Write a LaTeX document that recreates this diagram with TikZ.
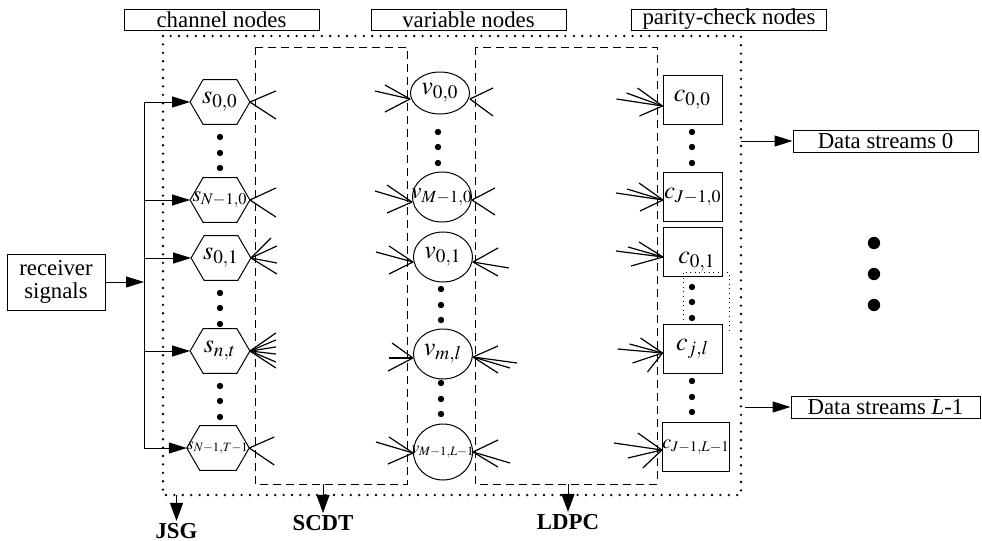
\documentclass[tikz,border=0pt]{standalone}
\usepackage{mathptmx}
\usepackage{fontspec}
\setmainfont{Liberation Serif}
\usetikzlibrary{arrows.meta,calc,shapes.geometric}
\newcommand\myfan[3]{\foreach \p in {#3} \draw[edgeln] ($(#1)+(0,#2)$) -- +\p;}
\begin{document}
\begin{tikzpicture}[x=0.5pt,y=-0.5pt,
  every node/.style={inner sep=0pt},
  txt/.style={font=\fontsize{11.4}{11.6}\selectfont},
  hdr/.style={draw, line width=0.5pt, minimum width=97.5pt, minimum height=10.5pt, txt},
  hexn/.style={minimum width=29.5pt, minimum height=22pt},
  vn/.style={draw, ellipse, minimum width=29.5pt, minimum height=25pt, line width=0.5pt},
  cn/.style={draw, rectangle, minimum width=29.5pt, minimum height=24.5pt, line width=0.5pt},
  outbox/.style={draw, line width=0.5pt, minimum height=11pt, txt},
  arr/.style={-{Triangle[length=9pt,width=5.5pt]}, line width=0.5pt},
  darr/.style={-{Triangle[length=9pt,width=6.5pt]}, line width=0.5pt},
  edgeln/.style={line width=0.6pt},
  dotbox/.style={line width=1.3pt, line cap=round, dash pattern=on 0pt off 4.2pt},
  dashbox/.style={line width=0.5pt, dash pattern=on 4pt off 2.5pt},
  big/.style={font=\fontsize{13}{13}\selectfont},
  bold/.style={font=\fontsize{11.4}{11.6}\selectfont\bfseries},
]
\useasboundingbox (0,0) rectangle (982,541);

% header boxes
\node[hdr] (hch) at (221.5,19.5) {channel nodes};
\node[hdr] (hvar) at (468.5,19.5) {variable nodes};
\node[hdr] (hpc) at (729,19.5) {parity-check nodes};

% frames
\coordinate (bigTL) at (163,36);
\coordinate (bigBR) at (741,495);
\draw[dotbox] (bigTL) rectangle (bigBR);
\coordinate (d1TL) at (255,47);
\coordinate (d1BR) at (407,484);
\coordinate (d2TL) at (475,47);
\coordinate (d2BR) at (657,484);
\draw[dashbox] (d1TL) rectangle (d1BR);
\draw[dashbox] (d2TL) rectangle (d2BR);

% channel nodes
\node[hexn,big] (s00) at (220,102) {$s_{0,0}$};
\node[hexn,font=\fontsize{11}{11}\selectfont] (s10) at (220,200) {$s_{N-1,0}$};
\node[hexn,big] (s01) at (221,258) {$s_{0,1}$};
\node[hexn,big] (snt) at (220,351) {$s_{n,t}$};
\node[hexn,font=\fontsize{8.6}{9}\selectfont] (sNT) at (218,448) {$s_{N-1,T-1}$};
\foreach \n in {s00,s10,s01,snt,sNT}
  \draw[line width=0.5pt] (\n.west) -- ([xshift=6.5pt]\n.north west) -- ([xshift=-6.5pt]\n.north east)
    -- (\n.east) -- ([xshift=-6.5pt]\n.south east) -- ([xshift=6.5pt]\n.south west) -- cycle;

% variable nodes
\node[vn,minimum height=21pt,label={[big]center:$v_{0,0}$}] (v00) at (440,93) {};
\node[vn,label={[font=\fontsize{11.5}{11.5}\selectfont]center:$v_{M-1,0}$}] (v10) at (442,197) {};
\node[vn,label={[big]center:$v_{0,1}$}] (v01) at (443,257) {};
\node[vn,label={[big]center:$v_{m,l}$}] (vml) at (443,354) {};
\node[vn,minimum height=28pt,label={[font=\fontsize{8.6}{9}\selectfont]center:$v_{M-1,L-1}$}] (vML) at (443,452) {};

% check nodes
\node[cn,big] (c00) at (692.5,99.5) {$c_{0,0}$};
\node[cn,font=\fontsize{12}{12}\selectfont] (c10) at (693,197) {$c_{J-1,0}$};
\node[cn] (c01) at (693,252) {};
\node[big] (c01lab) at (697,262) {$c_{0,1}$};
\node[cn,big] (cjl) at (692.5,349) {$c_{j,l}$};
\node[cn,font=\fontsize{10}{10}\selectfont] (cJL) at (696,447) {$c_{J-1,L-1}$};
\draw[line width=0.4pt, dash pattern=on 0.5pt off 1.8pt] (683,320) -- (683,272) -- (729,272) -- (729,333);

% small dots
\foreach \x/\y in {220/137,220/153,220/168, 220/293,220/308,220/324, 220/386,220/401,220/417,
                   438/132,438/147,438/163, 441/289,441/305,441/320, 441/383,441/399,441/414,
                   692/132,692/147,692/163, 692/287,692/302,692/318, 692/381,692/397,692/412}
  \fill (\x,\y) circle[radius=1.6pt];
% big dots
\foreach \y in {243,274,305}
  \fill (874,\y) circle[radius=3.1pt];

% fan-out edges
\myfan{s00.east}{0}{(26,-11),(26,17)}
\myfan{s10.east}{0}{(26,-12),(26,17)}
\myfan{s01.east}{0}{(20,-20),(26,-12),(26,5),(26,16)}
\myfan{snt.east}{0}{(26,-18),(26,-11),(26,-4),(26,3),(26,11),(26,17)}
\myfan{sNT.east}{0}{(25,-11),(25,17)}

\myfan{v00.west}{6}{(-35,-8),(-25,-14),(-25,13)}
\myfan{v00.east}{6}{(23,-11),(23,17)}
\myfan{v10.west}{5}{(-37,-11),(-25,-17),(-25,11)}
\myfan{v10.east}{3}{(23,-12),(23,15)}
\myfan{v01.west}{5}{(-37,-10),(-24,-16),(-24,12)}
\myfan{v01.east}{5}{(25,-14),(36,6),(25,14)}
\myfan{vml.west}{4}{(-21,-15),(-24,0),(-25,13)}
\myfan{vml.east}{3}{(25,-11),(44,6),(37,11),(25,16)}
\myfan{vML.west}{1}{(-37,-11),(-24,-16),(-25,11)}
\myfan{vML.east}{0}{(25,-12),(37,11),(25,15)}

\myfan{c00.west}{6.5}{(-46,-7),(-36,-13),(-23,10),(-25,-18)}
\myfan{c10.west}{3}{(-47,-7),(-36,-11),(-24,-17),(-23,11)}
\myfan{c01.west}{5}{(-47,-6),(-35,-10),(-24,-15),(-32,9)}
\myfan{cjl.west}{4}{(-45,-4),(-33,-9),(-22,-15),(-30,10),(-15,19)}
\myfan{cJL.west}{3}{(-48,-7),(-24,-17),(-34,8),(-19,18)}

% receiver and bus
\node[draw, line width=0.5pt, txt, align=center, minimum width=49pt, minimum height=28pt] (recv) at (56,282) {receiver\\signals};
\coordinate (busx) at (144,0);
\draw[arr] (recv.east) -- (recv.east -| busx);
\draw[line width=0.5pt] (busx |- s00.west) -- (busx |- sNT.west);
\foreach \n in {s00,s10,s01,snt,sNT}
  \draw[arr] (busx |- \n.west) -- (\n.west);

% outputs
\node[outbox, minimum width=92.5pt] (ds0) at (885.5,141) {Data streams 0};
\node[outbox, minimum width=94.5pt] (dsL) at (885.5,407) {Data streams \textit{L}-1};
\draw[arr] (bigBR |- ds0.west) -- (ds0.west);
\draw[arr] ([xshift=2pt]bigBR |- dsL.west) -- (dsL.west);

% bottom labels
\node[bold] (jsg) at (176.5,531) {JSG};
\node[bold] (scdt) at (323,523) {SCDT};
\node[bold] (ldpc) at (568,522) {LDPC};
\draw[darr] (jsg |- bigBR) -- ([yshift=1pt]jsg.north);
\draw[darr] (scdt |- d1BR) -- ([yshift=1pt]scdt.north);
\draw[darr] (ldpc |- d2BR) -- ([yshift=1pt]ldpc.north);
\end{tikzpicture}
\end{document}
